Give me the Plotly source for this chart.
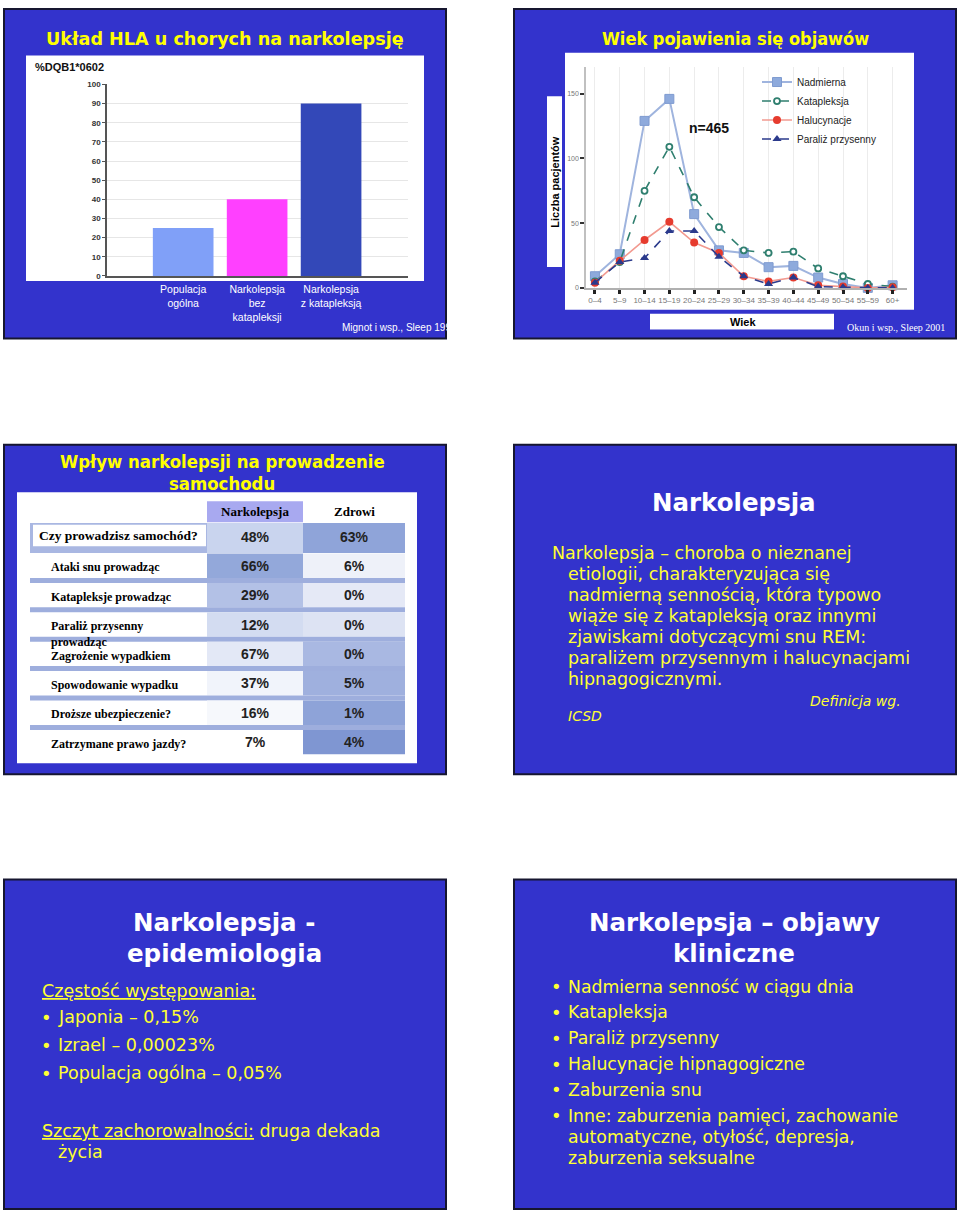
import plotly.graph_objects as go

W, H = 960, 1218

# ---------------- data ----------------
hla_categories = ["Populacja<br>ogólna", "Narkolepsja<br>bez<br>katapleksji", "Narkolepsja<br>z katapleksją"]
hla_values = [25, 40, 90]

age_groups = ["0–4", "5–9", "10–14", "15–19", "20–24", "25–29", "30–34",
              "35–39", "40–44", "45–49", "50–54", "55–59", "60+"]
nadmierna = [9, 26, 129, 146, 57, 29, 27, 16, 17, 8, 3, 0, 2]
katapleksja = [5, 20, 75, 109, 70, 47, 29, 27, 28, 15, 9, 3, 1]
halucynacje = [4, 21, 37, 51, 35, 27, 9, 5, 8, 2, 1, 0, 0.5]
paraliz = [4, 20, 23, 44, 44, 24, 9, 3, 8, 1, 0.5, 0, 0]

drive_rows = ["Czy prowadzisz samochód?", "Ataki snu prowadząc", "Katapleksje prowadząc",
              "Paraliż przysenny<br>prowadząc", "Zagrożenie wypadkiem", "Spowodowanie wypadku",
              "Droższe ubezpieczenie?", "Zatrzymane prawo jazdy?"]
drive_cols = ["Narkolepsja", "Zdrowi"]
drive_narko = ["48%", "66%", "29%", "12%", "67%", "37%", "16%", "7%"]
drive_zdrowi = ["63%", "6%", "0%", "0%", "0%", "5%", "1%", "4%"]

# ---------------- styles ----------------
SLIDE_BLUE = "#3333cc"
YELLOW = "#ffff33"
COND_FONT = "DejaVu Sans Condensed, DejaVu Sans, sans-serif"
WIDE_FONT = "DejaVu Sans, Verdana, sans-serif"
BODY_FONT = "DejaVu Sans, Verdana, sans-serif"
ARIAL = "Liberation Sans, Arial, sans-serif"
SERIF = "Liberation Serif, Times New Roman, serif"
bar_colors = ["#80a0f8", "#ff40ff", "#3348b8"]
narko_fill = ["#c9d4ee", "#93a8da", "#b3c1e6", "#d3dcf1", "#e3e8f6", "#f1f4fb", "#f6f8fc", "#ffffff"]
zdrowi_fill = ["#8fa4d9", "#eef1f9", "#e5e9f6", "#dde3f3", "#a9b8e2", "#9fb0de", "#8ea3d8", "#7f96d2"]

shapes = []
annotations = []


def px(x):
    return x / W


def py(y):
    return 1 - y / H


def rect(x0, y0, x1, y1, fill, line=None, lw=0):
    shapes.append(dict(type="rect", xref="paper", yref="paper", x0=px(x0), x1=px(x1),
                       y0=py(y1), y1=py(y0), fillcolor=fill, layer="below",
                       line=dict(color=line or fill, width=lw)))


def ann(x, y, text, size, color, family=BODY_FONT, bold=False, italic=False,
        xanchor="left", yanchor="middle", **kw):
    annotations.append(dict(x=px(x), y=py(y), xref="paper", yref="paper", text=text,
                            showarrow=False, xanchor=xanchor, yanchor=yanchor, align="left",
                            font=dict(size=size, color=color, family=family,
                                      weight="bold" if bold else "normal",
                                      style="italic" if italic else "normal"), **kw))


# slide backgrounds
for (x0, y0) in [(4, 5), (514, 5), (4, 444), (514, 444), (4, 882), (514, 882)]:
    rect(x0, y0, x0 + 442, y0 + 332, SLIDE_BLUE, "#161630", 2)

# white panels
rect(26, 52, 424, 279, "#ffffff")
rect(565, 49, 914, 308, "#ffffff")
rect(547, 93, 562, 265, "#ffffff")
rect(650, 312, 834, 328, "#ffffff")
rect(17, 492, 417, 765, "#ffffff")

fig = go.Figure()

# ---------------- slide 1: bar chart ----------------
fig.add_trace(go.Bar(x=hla_categories, y=hla_values, marker=dict(color=bar_colors, line=dict(width=0)),
                     width=0.82, xaxis="x", yaxis="y", showlegend=False))

ann(225, 35, "Układ HLA u chorych na narkolepsję", 17.6, "#ffff00", WIDE_FONT, bold=True, xanchor="center")
ann(33, 63, "%DQB1*0602", 11, "#111111", ARIAL, bold=True)
ann(340, 326, "Mignot i wsp., Sleep 199", 10, "#ffffff", ARIAL)

# ---------------- slide 2: line chart ----------------
fig.add_trace(go.Scatter(x=age_groups, y=nadmierna, name="Nadmierna", mode="lines+markers",
                         line=dict(color="#9fb4de", width=2),
                         marker=dict(symbol="square", size=9, color="#8eaadc", line=dict(color="#7f9bd0", width=1)),
                         xaxis="x2", yaxis="y2", cliponaxis=False))
fig.add_trace(go.Scatter(x=age_groups, y=katapleksja, name="Katapleksja", mode="lines+markers",
                         line=dict(color="#2f7f6f", width=1.6, dash="dash"),
                         marker=dict(symbol="circle", size=6, color="#ffffff", line=dict(color="#2f7f6f", width=1.8)),
                         xaxis="x2", yaxis="y2", cliponaxis=False))
fig.add_trace(go.Scatter(x=age_groups, y=halucynacje, name="Halucynacje", mode="lines+markers",
                         line=dict(color="#f29a90", width=1.6),
                         marker=dict(symbol="circle", size=8, color="#e63b2e"),
                         xaxis="x2", yaxis="y2", cliponaxis=False))
fig.add_trace(go.Scatter(x=age_groups, y=paraliz, name="Paraliż przysenny", mode="lines+markers",
                         line=dict(color="#2b3a8c", width=1.6, dash="dash"),
                         marker=dict(symbol="triangle-up", size=8, color="#2b3a8c"),
                         xaxis="x2", yaxis="y2", cliponaxis=False))

ann(735, 35, "Wiek pojawienia się objawów", 18, "#ffff00", COND_FONT, bold=True, xanchor="center")
ann(709, 125, "n=465", 14, "#111111", ARIAL, bold=True, xanchor="center")
ann(555, 179, "Liczba pacjentów", 11, "#000000", ARIAL, bold=True, xanchor="center", textangle=-90)
ann(743, 320, "Wiek", 11, "#000000", ARIAL, bold=True, xanchor="center")
ann(947, 326, "Okun i wsp., Sleep 2001", 10, "#ffffff", SERIF, xanchor="right")

# ---------------- slide 3: table on hidden axes ----------------
ROW0, PITCH = 538, 29.6
N = len(drive_rows)
LBL0, C1, C2, C3 = 30, 207, 303, 405


def tshape(x0, x1, r0, r1, fill):
    shapes.append(dict(type="rect", xref="x3", yref="y3", x0=x0, x1=x1, y0=r0, y1=r1,
                       fillcolor=fill, line=dict(width=0), layer="below"))


tshape(C1, C2, -1.25, -0.54, "#a8a9f0")
tshape(LBL0, C3, -0.51, 0.51, "#a9b7e2")
tshape(33, C1 - 1, -0.45, 0.28, "#ffffff")
for i in range(N):
    r0 = i - 0.47 if i > 0 else -0.51
    r1 = 0.51 if i == 0 else i + 0.36
    tshape(C1, C2, r0, r1, narko_fill[i])
    tshape(C2, C3, r0, r1, zdrowi_fill[i])
    if 0 < i < N - 1:
        tshape(LBL0, C3, i + 0.36, i + 0.53, "#9eaedd")

fig.add_trace(go.Scatter(x=[(C1 + C2) / 2] * N + [(C2 + C3) / 2] * N,
                         y=list(range(N)) * 2, text=drive_narko + drive_zdrowi,
                         mode="text", textposition="middle center",
                         textfont=dict(family="Liberation Sans Narrow, Liberation Sans, Arial", size=14,
                                       color="#222222", weight="bold"),
                         xaxis="x3", yaxis="y3", showlegend=False, hoverinfo="skip"))

for i, lab in enumerate(drive_rows):
    if i == 0:
        annotations.append(dict(x=37, y=i - 0.08, xref="x3", yref="y3", text=lab, showarrow=False,
                                xanchor="left", yanchor="middle",
                                font=dict(family=SERIF, size=13.5, color="#000000", weight="bold")))
    elif "<br>" in lab:
        annotations.append(dict(x=49, y=i - 0.3, xref="x3", yref="y3", text=lab, showarrow=False,
                                xanchor="left", yanchor="top", align="left",
                                font=dict(family=SERIF, size=12, color="#000000", weight="bold")))
    else:
        annotations.append(dict(x=49, y=i, xref="x3", yref="y3", text=lab, showarrow=False,
                                xanchor="left", yanchor="middle",
                                font=dict(family=SERIF, size=12, color="#000000", weight="bold")))
for j, col in enumerate(drive_cols):
    annotations.append(dict(x=[(C1 + C2) / 2, (C2 + C3) / 2][j], y=-0.91, xref="x3", yref="y3",
                            text=col, showarrow=False, xanchor="center", yanchor="middle",
                            font=dict(family=SERIF, size=13, color="#000000", weight="bold")))

ann(222, 461, "Wpływ narkolepsji na prowadzenie", 18.4, "#ffff00", COND_FONT, bold=True, xanchor="center")
ann(222, 483, "samochodu", 18.4, "#ffff00", COND_FONT, bold=True, xanchor="center")

# ---------------- slide 4 ----------------
ann(734, 502, "Narkolepsja", 24.5, "#ffffff", WIDE_FONT, bold=True, xanchor="center")
s4_lines = [(550, "Narkolepsja – choroba o nieznanej"),
            (566, "etiologii, charakteryzująca się"),
            (566, "nadmierną sennością, która typowo"),
            (566, "wiąże się z katapleksją oraz innymi"),
            (566, "zjawiskami dotyczącymi snu REM:"),
            (566, "paraliżem przysennym i halucynacjami"),
            (566, "hipnagogicznymi.")]
for k, (x, t) in enumerate(s4_lines):
    ann(x, 553 + 21.2 * k, t, 17.5, YELLOW)
ann(903, 702, "Definicja wg.", 14, YELLOW, italic=True, xanchor="right")
ann(566, 717, "ICSD", 14, YELLOW, italic=True)

# ---------------- slide 5 ----------------
ann(224, 925, "Narkolepsja -", 24.5, "#ffffff", WIDE_FONT, bold=True, xanchor="center")
ann(224, 957, "epidemiologia", 24.5, "#ffffff", WIDE_FONT, bold=True, xanchor="center")
ann(40, 994, "<u>Częstość występowania:</u>", 17.5, YELLOW)
for k, t in enumerate(["Japonia – 0,15%", "Izrael – 0,00023%", "Populacja ogólna – 0,05%"]):
    ann(39, 1021 + 28 * k, "•", 18, YELLOW)
    ann(56, 1021 + 28 * k, t, 17.5, YELLOW)
ann(40, 1135, "<u>Szczyt zachorowalności:</u> druga dekada", 17.5, YELLOW)
ann(56, 1157, "życia", 17.5, YELLOW)

# ---------------- slide 6 ----------------
ann(734, 925, "Narkolepsja – objawy", 24.5, "#ffffff", WIDE_FONT, bold=True, xanchor="center")
ann(734, 957, "kliniczne", 24.5, "#ffffff", WIDE_FONT, bold=True, xanchor="center")
s6_items = ["Nadmierna senność w ciągu dnia", "Katapleksja", "Paraliż przysenny",
            "Halucynacje hipnagogiczne", "Zaburzenia snu", "Inne: zaburzenia pamięci, zachowanie"]
for k, t in enumerate(s6_items):
    ann(549, 990 + 26 * k, "•", 18, YELLOW)
    ann(566, 990 + 26 * k, t, 17.3, YELLOW)
ann(566, 1141, "automatyczne, otyłość, depresja,", 17.3, YELLOW)
ann(566, 1163, "zaburzenia seksualne", 17.3, YELLOW)

# ---------------- layout ----------------
fig.update_layout(
    width=W, height=H, margin=dict(l=0, r=0, t=0, b=0),
    paper_bgcolor="#ffffff", plot_bgcolor="rgba(0,0,0,0)",
    shapes=shapes, annotations=annotations,
    xaxis=dict(domain=[px(107), px(408)], range=[-1.03, 3.04], anchor="y",
               showline=True, linecolor="#555555", linewidth=1.5, ticks="",
               tickfont=dict(family=ARIAL, size=10.5, color="#ffffff"), ticklabelstandoff=3,
               showgrid=False, zeroline=False, fixedrange=True),
    yaxis=dict(domain=[py(274), py(81)], range=[0, 100], anchor="x", dtick=10,
               showline=True, linecolor="#555555", linewidth=1.5, ticks="outside", ticklen=3,
               tickcolor="#555555", tickfont=dict(family=ARIAL, size=8, color="#333333", weight="bold"),
               showgrid=True, gridcolor="#e6e6e6", zeroline=False, fixedrange=True),
    xaxis2=dict(domain=[px(586), px(907)], range=[-0.36, 12.58], anchor="y2",
                showline=True, linecolor="#b0b0b0", linewidth=1.5, ticks="outside", ticklen=4,
                tickwidth=3, tickcolor="#222222",
                tickfont=dict(family=ARIAL, size=8, color="#777777"),
                showgrid=True, gridcolor="#ececec", zeroline=False, fixedrange=True),
    yaxis2=dict(domain=[py(286), py(63)], range=[0, 171], anchor="x2", tickvals=[0, 50, 100, 150],
                showline=True, linecolor="#c0c0c0", linewidth=1.5, ticks="outside", ticklen=4,
                tickwidth=2, tickcolor="#333333",
                tickfont=dict(family=ARIAL, size=7, color="#777777"),
                showgrid=False, zeroline=False, fixedrange=True),
    xaxis3=dict(domain=[px(17), px(417)], range=[17, 417], anchor="y3", visible=False, fixedrange=True),
    yaxis3=dict(domain=[py(765), py(492)], range=[(765 - ROW0) / PITCH, (492 - ROW0) / PITCH],
                anchor="x3", visible=False, fixedrange=True),
    legend=dict(x=px(757), y=py(64), xanchor="left", yanchor="top", bgcolor="rgba(0,0,0,0)",
                font=dict(family=ARIAL, size=10, color="#222222"), tracegroupgap=0),
    showlegend=True,
)

fig.write_html("out.html")
